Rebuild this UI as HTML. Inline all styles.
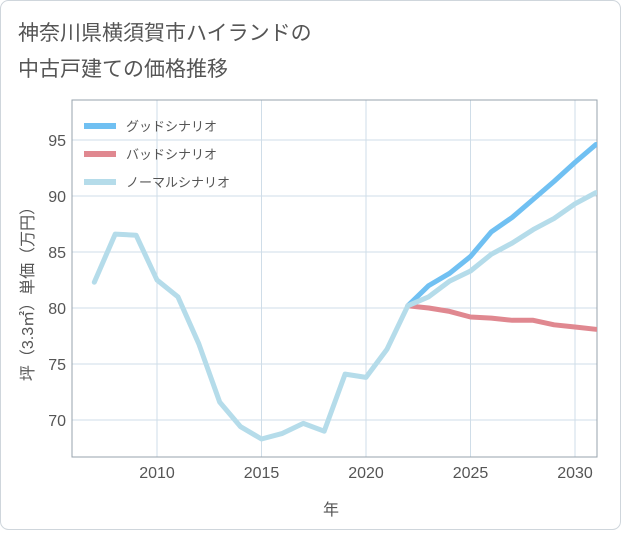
<!DOCTYPE html>
<html><head><meta charset="utf-8"><style>
body{margin:0;background:#fff;}
svg text{font-family:"Liberation Sans","Noto Sans CJK JP",sans-serif;}
</style></head><body>
<svg width="621" height="530" viewBox="0 0 621 530" xmlns="http://www.w3.org/2000/svg">
<rect x="0.5" y="0.5" width="620" height="529" rx="8" fill="#fff" stroke="#cfd6dc"/>
<text x="18" y="40" font-size="21" fill="#555">神奈川県横須賀市ハイランドの</text>
<text x="18" y="76" font-size="21" fill="#555">中古戸建ての価格推移</text>
<g id="grid"></g>
<rect x="72" y="100" width="525" height="357" fill="none" stroke="#97a3ad"/>
<g id="axes"></g>
<g id="series"></g>
<text x="331" y="515" font-size="16" fill="#555" text-anchor="middle">年</text>
<text transform="translate(33,290) rotate(-90)" font-size="16" fill="#555" text-anchor="middle">坪（3.3㎡）単価（万円）</text>
<g>
<line x1="84" y1="126" x2="116" y2="126" stroke="#70c0f2" stroke-width="6"/>
<text x="126" y="131" font-size="13" fill="#555">グッドシナリオ</text>
<line x1="84" y1="154" x2="116" y2="154" stroke="#e08890" stroke-width="6"/>
<text x="126" y="159" font-size="13" fill="#555">バッドシナリオ</text>
<line x1="84" y1="182" x2="116" y2="182" stroke="#b5dcea" stroke-width="6"/>
<text x="126" y="187" font-size="13" fill="#555">ノーマルシナリオ</text>
</g>
</svg>
<script>
const normalYears=[2007,2008,2009,2010,2011,2012,2013,2014,2015,2016,2017,2018,2019,2020,2021,2022,2023,2024,2025,2026,2027,2028,2029,2030,2031];
const normalValues=[82.3,86.6,86.5,82.5,81,76.8,71.6,69.4,68.3,68.8,69.7,69,74.1,73.8,76.3,80.2,81,82.4,83.3,84.8,85.8,87,88,89.3,90.3];
const forecastYears=[2022,2023,2024,2025,2026,2027,2028,2029,2030,2031];
const goodValues=[80.2,82,83.1,84.6,86.8,88.1,89.7,91.3,93,94.6];
const badValues=[80.2,80,79.7,79.2,79.1,78.9,78.9,78.5,78.3,78.1];
const xTicks=[2010,2015,2020,2025,2030];
const yTicks=[70,75,80,85,90,95];
const NS='http://www.w3.org/2000/svg';
const xs=y=>157+(y-2010)*20.9;
const ys=v=>308-(v-80)*11.2;
function mk(t,a,p){const e=document.createElementNS(NS,t);for(const k in a)e.setAttribute(k,a[k]);p.appendChild(e);return e;}
const grid=document.getElementById('grid'),axes=document.getElementById('axes'),ser=document.getElementById('series');
xTicks.forEach(t=>{
 const l=mk('line',{x1:xs(t),x2:xs(t),y1:100,y2:457,stroke:'#cfdde8'},grid);
 
 
 const tx=mk('text',{x:xs(t),y:478,'font-size':16,fill:'#555','text-anchor':'middle'},axes);tx.textContent=t;
 
 
});
yTicks.forEach(t=>{
 const l=mk('line',{x1:72,x2:597,y1:ys(t),y2:ys(t),stroke:'#cfdde8'},grid);
 
 
 const tx=mk('text',{x:66,y:ys(t)+6,'font-size':16,fill:'#555','text-anchor':'end'},axes);tx.textContent=t;
 
 
});
function line(xa,va,color,name){
 const d=xa.map((x,i)=>(i?'L':'M')+xs(x).toFixed(1)+','+ys(va[i]).toFixed(1)).join('');
 const p=mk('path',{d:d,fill:'none',stroke:color,'stroke-width':5,'stroke-linejoin':'round','stroke-linecap':'round'},ser);
 
 
}
const cp=mk('clipPath',{id:'clip'},ser);mk('rect',{x:72,y:100,width:525,height:357},cp);
ser.setAttribute('clip-path','url(#clip)');
line(forecastYears,goodValues,'#70c0f2','good-scenario-line');
line(forecastYears,badValues,'#e08890','bad-scenario-line');
line(normalYears,normalValues,'#b5dcea','normal-scenario-line');
</script>
</body></html>
